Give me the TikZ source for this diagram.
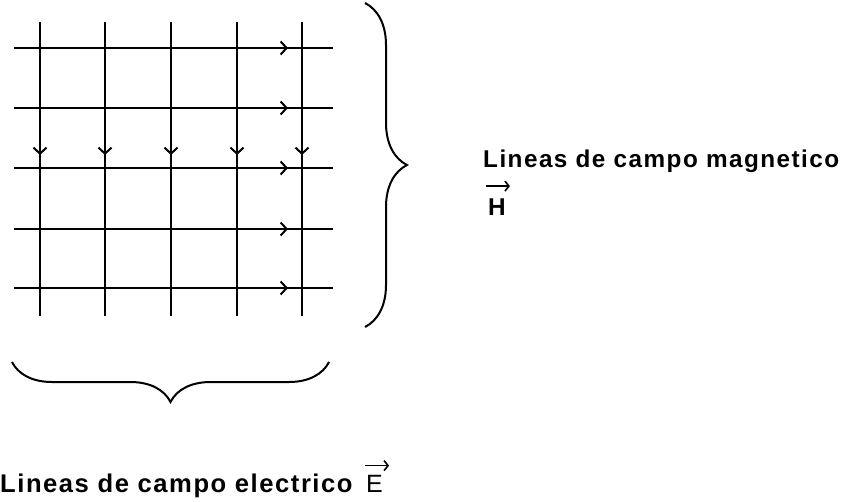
\documentclass[tikz,border=0pt]{standalone}
\usepackage{fontspec}
\setsansfont{Liberation Sans}[LetterSpace=6]
\usetikzlibrary{arrows.meta, positioning, decorations.pathreplacing}
\tikzset{
    fieldline/.style={line width=2.3pt, draw=black},
    fieldtip/.style={-{Straight Barb[length=6pt, width=13pt, line width=2pt]}},
    vectip/.style={line width=1.6pt, -{Straight Barb[length=4pt, width=10pt, line width=1.6pt]}},
    bracket/.style={
        line width=2pt, decorate,
        decoration={brace, amplitude=#1}
    },
    caption/.style={
        font=\sffamily\bfseries\fontsize{24.3}{28}\selectfont,
        inner sep=0pt
    },
    symbol/.style={
        font=\sffamily\fontsize{25}{28}\selectfont,
        inner sep=0pt
    }
}

\begin{document}
\begin{tikzpicture}[x=1pt, y=-1pt]
    \useasboundingbox[fill=white] (0,0) rectangle (842,501);

    % electric field lines (vertical)
    \foreach \x in {40,105,171,237,302} {
        \draw[fieldline, fieldtip] (\x,22) -- (\x,155);
        \draw[fieldline] (\x,148) -- (\x,316);
    }
    % magnetic field lines (horizontal)
    \foreach \y in {48,108,168,229,288} {
        \draw[fieldline, fieldtip] (14,\y) -- (288,\y);
        \draw[fieldline] (281,\y) -- (333,\y);
    }

    \draw[bracket=42pt] (365,3) -- (365,327);
    \draw[bracket=40pt, decoration={mirror}] (12,362) -- (329,362);

    \node[caption, anchor=base west] (mag) at (483,167) {Lineas de campo magnetico};
    \node[caption, anchor=base west] (H) at (488,215) {H};
    \node[caption, anchor=base west, font=\sffamily\bfseries\fontsize{25.6}{28}\selectfont] (ele) at (0,492) {Lineas de campo electrico};
    \node[symbol, anchor=base west] (E) at (366,492) {E};

    \draw[vectip] ([shift={(-2,-12)}]H.north west) -- ([shift={(4,-12)}]H.north east);
    \draw[vectip] ([shift={(-1,-9)}]E.north west) -- ([shift={(6,-9)}]E.north east);
\end{tikzpicture}
\end{document}
